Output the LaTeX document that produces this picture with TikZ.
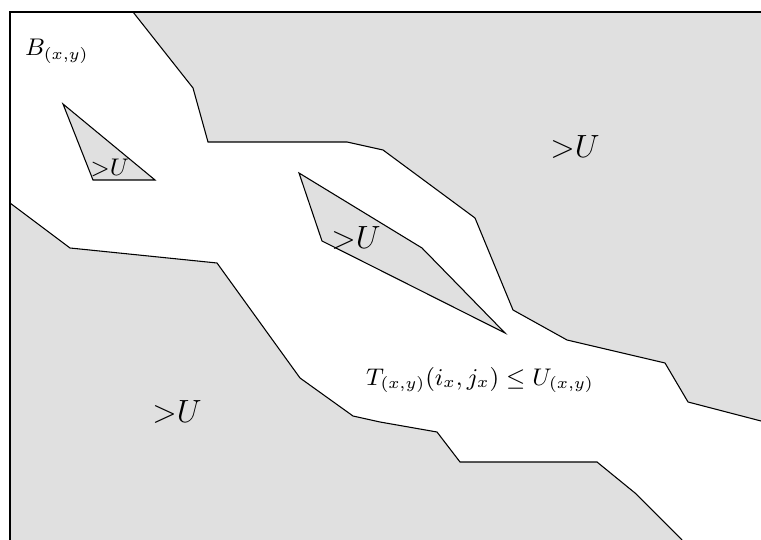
\documentclass[tikz,border=0pt]{standalone}
\usepackage{amsmath,amssymb}
\usepackage{tikz}
\usetikzlibrary{positioning}
\begin{document}
\begin{tikzpicture}[
    x=0.013141cm, y=-0.013141cm,
    region/.style={fill=black!12},
    bound/.style={draw, line join=miter},
    lbl/.style={inner sep=0pt, font=\small},
    big/.style={inner sep=0pt, font=\large}
]
\useasboundingbox (0,0) rectangle (761,540);
% upper region
\fill[region] (133,12) -- (193,88) -- (208,142) -- (347,142) -- (383,150) -- (475,218) -- (513,310) -- (567,340) -- (665,363) -- (688,402) -- (761,421) -- (761,12) -- cycle;
\draw[bound] (133,12) -- (193,88) -- (208,142) -- (347,142) -- (383,150) -- (475,218) -- (513,310) -- (567,340) -- (665,363) -- (688,402) -- (761,421);
% lower region
\fill[region] (10,203) -- (70,248) -- (217,263) -- (300,378) -- (353,416) -- (380,422) -- (437,432) -- (460,462) -- (597,462) -- (635,493) -- (682,540) -- (10,540) -- cycle;
\draw[bound] (10,203) -- (70,248) -- (217,263) -- (300,378) -- (353,416) -- (380,422) -- (437,432) -- (460,462) -- (597,462) -- (635,493) -- (682,540);
% islands
\path[region, bound] (63,104) -- (93,180) -- (155,180) -- cycle;
\path[region, bound] (299,173) -- (322,241) -- (505,333) -- (422,248) -- cycle;
% frame
\draw (10,540) -- (10,12) -- (761,12);

\node[lbl] (bxy) at (57,51) {$B_{(x,y)}$};
\node[big] (uTop) at (575,147) {${>}U$};
\node[big] (uMid) at (356,238) {${>}U$};
\node[big] (uLow) at (177,412) {${>}U$};
\node[lbl] (uTri) at (110,168) {${>}U$};
\node[lbl] (cond) at (480,380) {$T_{(x,y)}(i_x,j_x)\leq U_{(x,y)}$};
\end{tikzpicture}
\end{document}
